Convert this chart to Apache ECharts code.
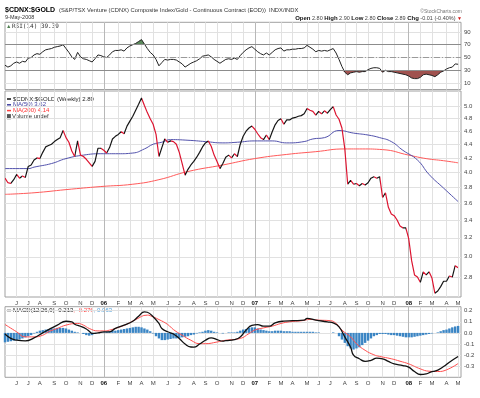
<!DOCTYPE html>
<html>
<head>
<meta charset="utf-8">
<script src="https://cdn.jsdelivr.net/npm/echarts@6/dist/echarts.min.js"></script>
<style>
  html, body { margin: 0; padding: 0; background: #fff; }
  #chart { width: 480px; height: 398px; }
</style>
</head>
<body>
<div id="chart"></div>
<script>
// 周线：每个类别是一周（周一日期），最后多留一个空位
const firstWeek = [2005, 4, 9];
const weekCount = 158;
const monthLetters = ['J', 'F', 'M', 'A', 'M', 'J', 'J', 'A', 'S', 'O', 'N', 'D'];

const priceTicks = [2.8, 3.0, 3.2, 3.4, 3.6, 3.8, 4.0, 4.2, 4.4, 4.6, 4.8, 5.0];
const rsiTicks = [10, 30, 50, 70, 90];
const macdTicks = [-0.3, -0.2, -0.1, 0, 0.1, 0.2];

// $CDNX:$GOLD 周收盘
const price = [
  3.92, 3.86, 3.85, 3.90, 3.97, 3.92, 3.95, 3.93, 4.08, 4.10,
  4.17, 4.20, 4.19, 4.28, 4.36, 4.38, 4.40, 4.44, 4.47, 4.50,
  4.61, 4.50, 4.43, 4.30, 4.22, 4.45, 4.24, 4.22, 4.18, 4.13,
  4.08, 4.15, 4.34, 4.34, 4.31, 4.27, 4.35, 4.48, 4.52, 4.55,
  4.59, 4.56, 4.68, 4.76, 4.84, 4.94, 5.04, 5.15, 5.02, 4.90,
  4.80, 4.71, 4.55, 4.22, 4.35, 4.48, 4.43, 4.45, 4.44, 4.40,
  4.28, 4.12, 3.96, 4.04, 4.10, 4.15, 4.21, 4.28, 4.36, 4.42,
  4.45, 4.37, 4.24, 4.15, 4.05, 4.12, 4.21, 4.24, 4.20, 4.26,
  4.22, 4.40, 4.52, 4.60, 4.65, 4.68, 4.63, 4.56, 4.50, 4.47,
  4.54, 4.47, 4.59, 4.70, 4.77, 4.80, 4.71, 4.78, 4.78, 4.81,
  4.82, 4.84, 4.85, 4.88, 4.97, 4.94, 4.92, 4.86, 4.92, 4.88,
  4.93, 4.89, 4.95, 5.00, 4.86, 4.79, 4.65, 4.33, 3.84, 3.89,
  3.84, 3.85, 3.82, 3.85, 3.83, 3.86, 3.92, 3.94, 3.92, 3.94,
  3.67, 3.73, 3.55, 3.47, 3.45, 3.40, 3.33, 3.31, 3.31, 3.19,
  2.96, 2.82, 2.80, 2.75, 2.85, 2.82, 2.85, 2.79, 2.65, 2.67,
  2.71, 2.76, 2.76, 2.81, 2.80, 2.91, 2.89
];

// 均线：[周序号, 值]
const ma50 = [
  [0, 4.05], [8, 4.05], [10, 4.07], [16, 4.12], [21, 4.19], [27, 4.24], [33, 4.26],
  [39, 4.26], [44, 4.27], [48, 4.33], [51, 4.40], [54, 4.43], [57, 4.47], [63, 4.46],
  [69, 4.44], [75, 4.42], [80, 4.43], [86, 4.45], [92, 4.45], [97, 4.42], [103, 4.44],
  [106, 4.48], [110, 4.50], [115, 4.61], [120, 4.57], [125, 4.54], [129, 4.50],
  [133, 4.44], [137, 4.31], [142, 4.17], [146, 3.97], [151, 3.79], [156, 3.62]
];
const ma200 = [
  [0, 3.71], [10, 3.73], [21, 3.77], [33, 3.81], [44, 3.84], [53, 3.90], [63, 4.01],
  [75, 4.10], [86, 4.19], [97, 4.25], [107, 4.29], [117, 4.33], [123, 4.33],
  [130, 4.32], [139, 4.24], [145, 4.19], [151, 4.16], [156, 4.13]
];

// RSI(14)
const rsi = [
  38, 35, 37, 41, 43, 41, 44, 43, 49, 50,
  54, 56, 55, 59, 62, 63, 64, 66, 67, 68,
  70, 64, 58, 51, 47, 58, 51, 48, 47, 45,
  43, 48, 54, 53, 51, 50, 54, 59, 61, 61,
  62, 60, 65, 68, 70, 72, 75, 78, 71, 64,
  58, 54, 47, 37, 42, 47, 46, 47, 47, 46,
  43, 40, 35, 38, 41, 43, 45, 48, 52, 53,
  54, 51, 47, 44, 41, 44, 47, 48, 47, 49,
  47, 53, 58, 62, 65, 67, 63, 59, 56, 54,
  57, 54, 58, 62, 64, 65, 60, 62, 62, 63,
  63, 64, 64, 65, 69, 66, 63, 59, 61, 60,
  61, 60, 62, 64, 57, 47, 36, 27, 23, 26,
  27, 28, 27, 28, 28, 31, 33, 34, 34, 33,
  27, 30, 28, 28, 27, 26, 25, 24, 23, 21,
  18, 17, 17, 19, 23, 24, 23, 22, 20, 23,
  27, 29, 32, 34, 35, 40, 39.39
];

// MACD(12,26,9)
const macdLine = [
  [0, -0.01], [2, -0.05], [4, -0.066], [7, -0.072], [10, -0.045], [13, 0.0], [15, 0.03],
  [18, 0.07], [21, 0.105], [23, 0.10], [24, 0.078], [26, 0.06], [28, 0.035], [29, 0.015],
  [30, -0.005], [32, 0.0], [34, 0.01], [36, 0.01], [38, 0.04], [41, 0.07], [44, 0.105],
  [46, 0.15], [48, 0.19], [49, 0.186], [51, 0.146], [53, 0.085], [54, 0.04], [56, 0.01],
  [58, -0.01], [60, -0.05], [62, -0.1], [64, -0.127], [65, -0.128], [67, -0.1], [69, -0.066],
  [71, -0.045], [73, -0.06], [75, -0.075], [76, -0.07], [79, -0.06], [81, -0.036],
  [83, 0.025], [85, 0.068], [87, 0.075], [89, 0.061], [91, 0.061], [93, 0.09], [96, 0.106],
  [99, 0.11], [103, 0.115], [104, 0.13], [107, 0.115], [111, 0.1], [113, 0.09], [115, 0.055],
  [117, -0.036], [119, -0.13], [120, -0.2], [122, -0.233], [124, -0.257], [126, -0.248],
  [128, -0.227], [130, -0.233], [132, -0.257], [134, -0.279], [137, -0.294], [139, -0.309],
  [141, -0.348], [143, -0.375], [145, -0.37], [147, -0.348], [148, -0.345], [151, -0.303],
  [153, -0.264], [156, -0.213]
];
const macdSignal = [
  [0, 0.076], [4, 0.01], [7, -0.036], [10, -0.036], [13, -0.021], [15, 0.01], [18, 0.04],
  [21, 0.07], [25, 0.085], [27, 0.07], [29, 0.04], [32, 0.018], [34, 0.018], [36, 0.025],
  [39, 0.049], [42, 0.079], [45, 0.12], [49, 0.16], [50, 0.155], [53, 0.12], [56, 0.076],
  [58, 0.03], [61, -0.021], [64, -0.066], [67, -0.097], [69, -0.097], [73, -0.082],
  [76, -0.066], [81, -0.05], [84, -0.006], [86, 0.025], [89, 0.045], [92, 0.061], [95, 0.085],
  [98, 0.1], [102, 0.109], [105, 0.121], [108, 0.115], [112, 0.11], [114, 0.085], [116, 0.025],
  [119, -0.036], [121, -0.097], [124, -0.157], [127, -0.197], [129, -0.212], [133, -0.233],
  [136, -0.255], [139, -0.279], [143, -0.324], [146, -0.345], [149, -0.348], [152, -0.333],
  [156, -0.276]
];
const macdHist = [
  -0.085, -0.08, -0.075, -0.07, -0.065, -0.06, -0.05, -0.04, -0.03, -0.02,
  -0.005, 0.01, 0.02, 0.025, 0.03, 0.035, 0.04, 0.04, 0.045, 0.045,
  0.045, 0.04, 0.03, 0.02, 0.01, 0.005, 0.0, -0.01, -0.02, -0.025,
  -0.02, -0.01, 0.0, 0.005, 0.005, 0.01, 0.015, 0.02, 0.02, 0.025,
  0.03, 0.035, 0.04, 0.045, 0.05, 0.055, 0.055, 0.05, 0.04, 0.03,
  0.015, -0.005, -0.03, -0.05, -0.065, -0.065, -0.06, -0.055, -0.05, -0.05,
  -0.045, -0.04, -0.035, -0.03, -0.02, -0.015, -0.005, 0.005, 0.01, 0.02,
  0.025, 0.02, 0.01, 0.005, 0.0, -0.005, 0.0, 0.005, 0.005, 0.005,
  0.01, 0.02, 0.03, 0.035, 0.045, 0.05, 0.05, 0.04, 0.03, 0.025,
  0.02, 0.015, 0.015, 0.02, 0.02, 0.02, 0.015, 0.015, 0.015, 0.01,
  0.01, 0.01, 0.01, 0.01, 0.01, 0.01, 0.01, 0.005, 0.005, 0.0,
  0.0, 0.0, 0.0, 0.005, 0.0, -0.03, -0.06, -0.09, -0.12, -0.14,
  -0.15, -0.14, -0.13, -0.11, -0.09, -0.07, -0.05, -0.03, -0.02, -0.01,
  -0.01, -0.01, -0.015, -0.02, -0.02, -0.025, -0.03, -0.035, -0.04, -0.04,
  -0.04, -0.035, -0.03, -0.025, -0.02, -0.015, -0.01, -0.005, 0.0, 0.005,
  0.015, 0.025, 0.03, 0.04, 0.05, 0.058, 0.063
];

const FONT = '"Liberation Sans", Arial, sans-serif';
const UP = '#151515';
const DOWN = '#dc1430';

const weeks = [];
for (let k = 0; k < weekCount; k++) {
  const d = new Date(Date.UTC(firstWeek[0], firstWeek[1], firstWeek[2] + 7 * k));
  weeks.push(d.toISOString().slice(0, 10));
}
const isMonthStart = (idx, val) => +val.slice(8, 10) <= 7;
const isYearStart = (idx, val) => val.slice(5, 7) === '01' && +val.slice(8, 10) <= 7;
const monthLabel = val => {
  const m = +val.slice(5, 7) - 1;
  return m === 0 ? '{y|' + val.slice(2, 4) + '}' : monthLetters[m];
};

// 按涨跌给收盘线分段着色
const pieces = [];
for (let i = 1; i < price.length; i++) {
  const color = price[i] < price[i - 1] ? DOWN : UP;
  const last = pieces[pieces.length - 1];
  if (last && last.color === color) last.lte = i;
  else pieces.push(last ? { gt: i - 1, lte: i, color } : { gte: 0, lte: i, color });
}

function monthAxis(gridIndex, showLabels) {
  return {
    type: 'category', gridIndex, data: weeks, boundaryGap: false,
    axisLine: { show: false }, axisTick: { show: false },
    axisLabel: {
      show: showLabels, interval: isMonthStart, formatter: monthLabel,
      fontFamily: FONT, fontSize: 6, color: '#444', margin: 3,
      rich: { y: { fontFamily: FONT, fontSize: 6, fontWeight: 'bold', color: '#111' } }
    },
    splitLine: { show: true, interval: isMonthStart, lineStyle: { color: '#e1e1e1', width: 1 } }
  };
}
function yearAxis(gridIndex) {
  return {
    type: 'category', gridIndex, data: weeks, boundaryGap: false,
    axisLine: { show: false }, axisTick: { show: false }, axisLabel: { show: false },
    splitLine: { show: true, interval: isYearStart, lineStyle: { color: '#b8b8b8', width: 1 } }
  };
}
function rightAxis(extra) {
  return Object.assign({
    position: 'right',
    axisLine: { show: false },
    splitLine: { show: true, lineStyle: { color: '#e1e1e1', width: 1 } }
  }, extra);
}
const axisText = { fontFamily: FONT, fontSize: 6, color: '#444', margin: 3 };

const gridBase = { show: true, borderColor: '#a0a0a0', borderWidth: 1, backgroundColor: '#fff', outerBoundsMode: 'none' };

const text = (x, y, str, style) => ({
  type: 'text', x, y, silent: true,
  style: Object.assign({ text: str, font: '6px ' + FONT, fill: '#222', align: 'left', verticalAlign: 'middle' }, style)
});
const dash = (x, y, color) => ({
  type: 'rect', silent: true, shape: { x, y: y - 0.75, width: 4, height: 1.5 }, style: { fill: color }
});

const chart = echarts.init(document.getElementById('chart'));
chart.setOption({
  animation: false,
  backgroundColor: '#fff',
  grid: [
    Object.assign({ left: 5, right: 19, top: 22.3, height: 67.2 }, gridBase),
    Object.assign({ left: 5, right: 19, top: 91, height: 206 }, gridBase),
    Object.assign({ left: 5, right: 19, top: 306.7, height: 70.6 }, gridBase)
  ],
  xAxis: [
    monthAxis(0, false), yearAxis(0),
    monthAxis(1, true), yearAxis(1),
    monthAxis(2, true), yearAxis(2)
  ],
  yAxis: [
    rightAxis({
      gridIndex: 0, type: 'value', min: 0, max: 105,
      axisTick: { show: false, customValues: rsiTicks },
      axisLabel: Object.assign({ customValues: rsiTicks }, axisText)
    }),
    rightAxis({
      gridIndex: 1, type: 'log', logBase: 10, min: 2.616, max: 5.274,
      axisTick: { show: false, customValues: priceTicks },
      axisLabel: Object.assign({ customValues: priceTicks, formatter: v => (+v).toFixed(1) }, axisText)
    }),
    rightAxis({
      gridIndex: 2, type: 'value', min: -0.4, max: 0.236,
      axisTick: { show: false, customValues: macdTicks },
      axisLabel: Object.assign({ customValues: macdTicks, formatter: v => (+v).toFixed(1) }, axisText)
    })
  ],
  visualMap: [{ type: 'piecewise', show: false, seriesIndex: 7, dimension: 0, pieces }],
  series: [
    // RSI 超买/超卖填充
    { type: 'line', xAxisIndex: 0, yAxisIndex: 0, stack: 'hi', data: rsi.map(() => 70),
      symbol: 'none', silent: true, lineStyle: { opacity: 0 } },
    { type: 'line', xAxisIndex: 0, yAxisIndex: 0, stack: 'hi', data: rsi.map(v => Math.max(v - 70, 0)),
      symbol: 'none', silent: true, lineStyle: { opacity: 0 }, areaStyle: { color: '#5b8a5b', opacity: 1 } },
    { type: 'line', xAxisIndex: 0, yAxisIndex: 0, stack: 'lo', data: rsi.map(v => Math.min(v, 30)),
      symbol: 'none', silent: true, lineStyle: { opacity: 0 } },
    { type: 'line', xAxisIndex: 0, yAxisIndex: 0, stack: 'lo', data: rsi.map(v => 30 - Math.min(v, 30)),
      symbol: 'none', silent: true, lineStyle: { opacity: 0 }, areaStyle: { color: '#a0524f', opacity: 1 } },
    { type: 'line', xAxisIndex: 0, yAxisIndex: 0, data: rsi, symbol: 'none', silent: true,
      lineStyle: { color: '#222', width: 1 },
      markLine: {
        silent: true, symbol: ['none', 'none'], label: { show: false },
        lineStyle: { color: '#8c8c8c', width: 1, type: 'solid' },
        data: [{ yAxis: 70 }, { yAxis: 30 },
          { yAxis: 50, lineStyle: { color: '#9a9a9a', type: [6, 2, 1, 2] } }]
      } },
    // 主图
    { type: 'line', xAxisIndex: 2, yAxisIndex: 1, data: ma200, smooth: true, symbol: 'none', silent: true,
      lineStyle: { color: '#ff5a5a', width: 1 } },
    { type: 'line', xAxisIndex: 2, yAxisIndex: 1, data: ma50, smooth: true, symbol: 'none', silent: true,
      lineStyle: { color: '#5252ac', width: 1 } },
    { type: 'line', xAxisIndex: 2, yAxisIndex: 1, data: price, symbol: 'none', silent: true,
      lineStyle: { width: 1.2 } },
    // MACD
    { type: 'bar', xAxisIndex: 4, yAxisIndex: 2, data: macdHist, barWidth: 2.4, silent: true,
      itemStyle: { color: '#3a85c4' } },
    { type: 'line', xAxisIndex: 4, yAxisIndex: 2, data: macdSignal, smooth: true, symbol: 'none', silent: true,
      lineStyle: { color: '#ff5050', width: 1 } },
    { type: 'line', xAxisIndex: 4, yAxisIndex: 2, data: macdLine, smooth: true, symbol: 'none', silent: true,
      lineStyle: { color: '#111', width: 1.3 } }
  ],
  graphic: [
    text(5, 10.5, '$CDNX:$GOLD', { font: 'bold 7px ' + FONT, fill: '#000' }),
    text(59, 10.8, '(S&P/TSX Venture (CDNX) Composite Index/Gold - Continuous Contract (EOD))  INDX/INDX',
      { font: '5.8px ' + FONT, fill: '#333' }),
    text(462, 11.5, '\u00a9StockCharts.com', { font: '5px ' + FONT, fill: '#777', align: 'right' }),
    text(5, 17, '9-May-2008', { font: '5.5px ' + FONT, fill: '#333' }),
    text(462, 18.5,
      '{b|Open} 2.80 {b|High} 2.90 {b|Low} 2.80 {b|Close} 2.89 {b|Chg} -0.01 (-0.40%) {r|\u25bc}', {
        font: '5.5px ' + FONT, fill: '#444', align: 'right',
        rich: {
          b: { font: 'bold 6px ' + FONT, fill: '#111' },
          r: { font: '5px ' + FONT, fill: '#d01010' }
        }
      }),
    text(6, 26.5, '\u25b2', { font: '5.5px ' + FONT, fill: '#4f7f4f' }),
    text(12, 26.5, 'RSI(14) 39.39', { font: '6px "DejaVu Sans Mono", monospace', fill: '#333' }),
    dash(7, 99, '#111'),
    text(13, 99, '$CDNX:$GOLD (Weekly) 2.89', { fill: '#222' }),
    dash(7, 104.8, '#4040a0'),
    text(13, 104.8, 'MA(50) 3.62', { fill: '#4040a0' }),
    dash(7, 110.6, '#ff4040'),
    text(13, 110.6, 'MA(200) 4.14', { fill: '#ff3030' }),
    text(7, 116.3, '\u2587', { font: '4.5px ' + FONT, fill: '#555' }),
    text(12, 116.3, 'Volume undef', { fill: '#333' }),
    dash(7, 310.5, '#111'),
    text(13, 310.5, 'MACD(12,26,9) -0.213{r|, -0.276}{c|, 0.063}', {
      fill: '#222',
      rich: { r: { font: '6px ' + FONT, fill: '#ff4040' }, c: { font: '6px ' + FONT, fill: '#4a9bd6' } }
    })
  ]
});
</script>
</body>
</html>
